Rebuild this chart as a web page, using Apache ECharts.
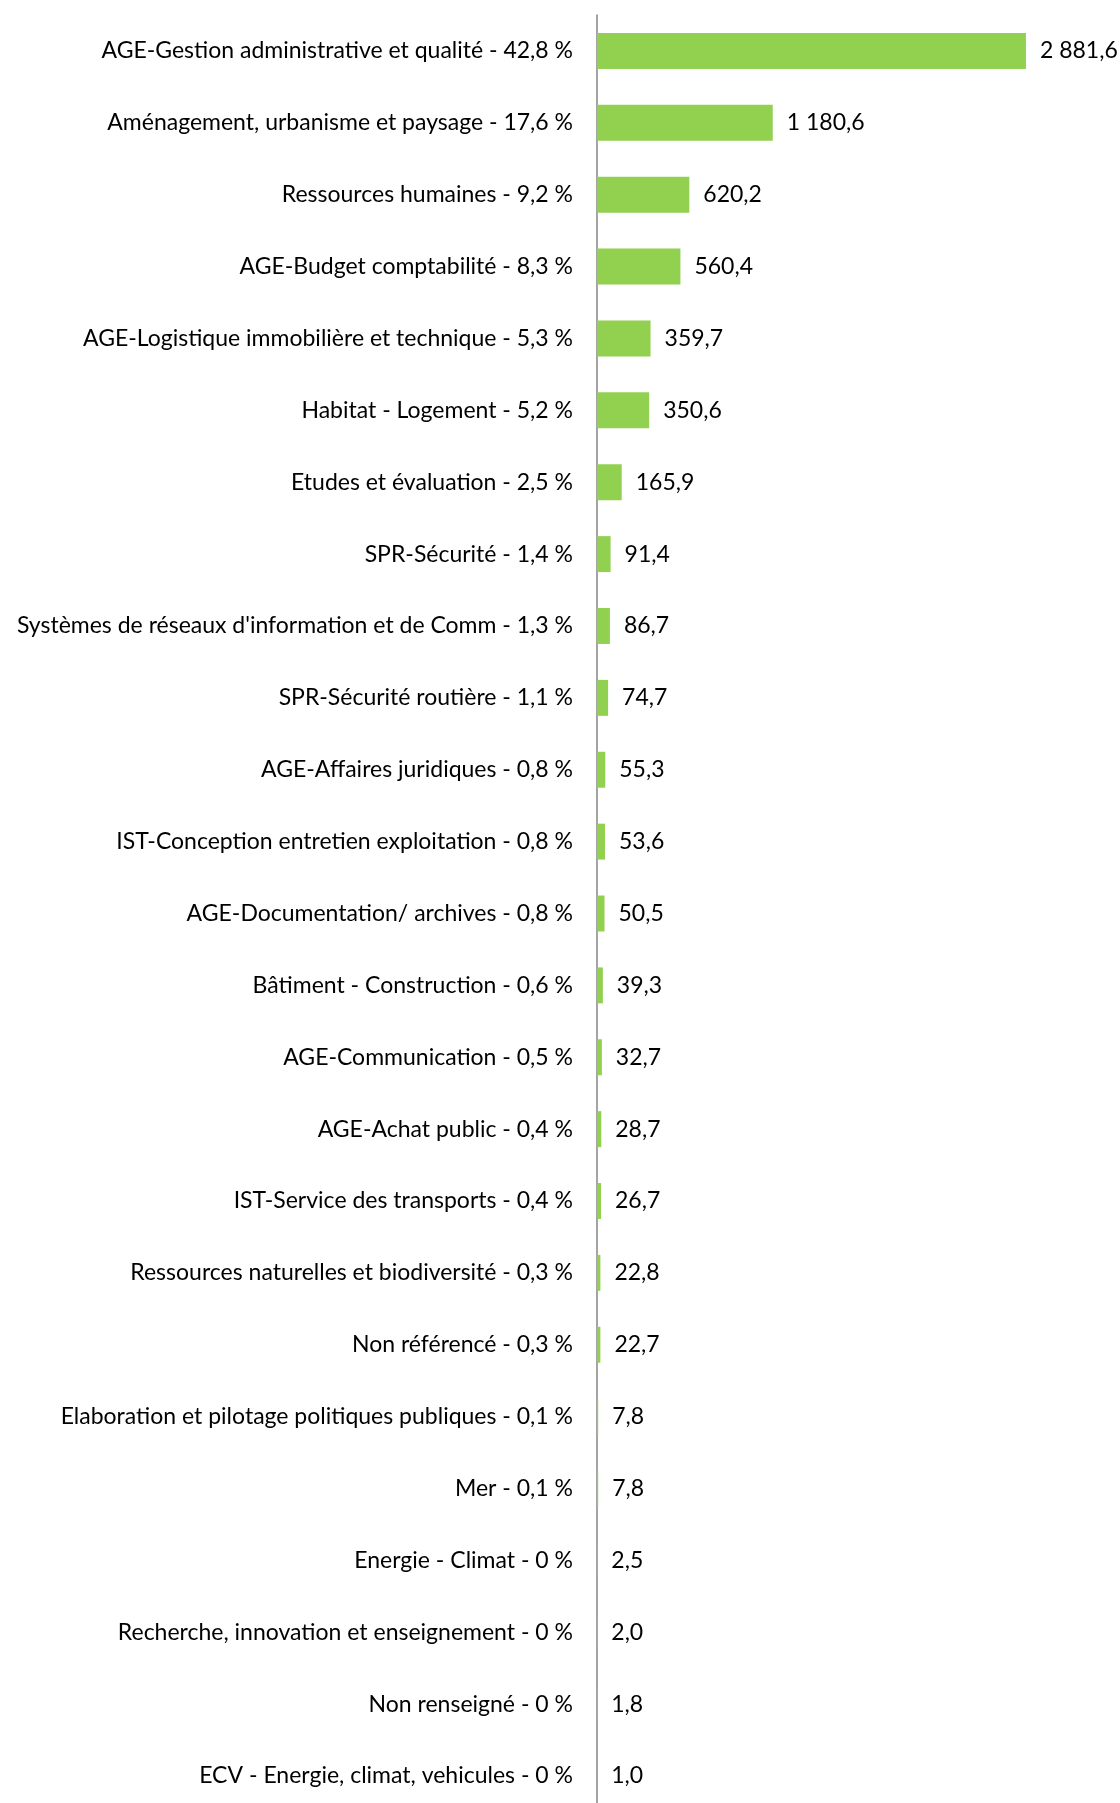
<!DOCTYPE html>
<html>
<head>
<meta charset="utf-8">
<script src="https://cdn.jsdelivr.net/npm/echarts@6/dist/echarts.min.js"></script>
<style>
  html, body { margin: 0; padding: 0; background: #fff; }
  #chart { width: 1120px; height: 1803px; }
</style>
</head>
<body>
<div id="chart"></div>
<script>
const categories = [
  'AGE-Gestion administrative et qualité',
  'Aménagement, urbanisme et paysage',
  'Ressources humaines',
  'AGE-Budget comptabilité',
  'AGE-Logistique immobilière et technique',
  'Habitat - Logement',
  'Etudes et évaluation',
  'SPR-Sécurité',
  "Systèmes de réseaux d'information et de Comm",
  'SPR-Sécurité routière',
  'AGE-Affaires juridiques',
  'IST-Conception entretien exploitation',
  'AGE-Documentation/ archives',
  'Bâtiment - Construction',
  'AGE-Communication',
  'AGE-Achat public',
  'IST-Service des transports',
  'Ressources naturelles et biodiversité',
  'Non référencé',
  'Elaboration et pilotage politiques publiques',
  'Mer',
  'Energie - Climat',
  'Recherche, innovation et enseignement',
  'Non renseigné',
  'ECV - Energie, climat, vehicules'
];
const percents = ['42,8', '17,6', '9,2', '8,3', '5,3', '5,2', '2,5', '1,4', '1,3', '1,1', '0,8', '0,8', '0,8', '0,6', '0,5', '0,4', '0,4', '0,3', '0,3', '0,1', '0,1', '0', '0', '0', '0'];
const values = [2881.6, 1180.6, 620.2, 560.4, 359.7, 350.6, 165.9, 91.4, 86.7, 74.7, 55.3, 53.6, 50.5, 39.3, 32.7, 28.7, 26.7, 22.8, 22.7, 7.8, 7.8, 2.5, 2.0, 1.8, 1.0];

const labels = categories.map((c, i) => c + ' - ' + percents[i] + ' %');

function fmt(v) {
  const parts = v.toFixed(1).split('.');
  return parts[0].replace(/\B(?=(\d{3})+(?!\d))/g, ' ') + ',' + parts[1];
}

const chart = echarts.init(document.getElementById('chart'));
chart.setOption({
  animation: false,
  textStyle: { fontFamily: 'Lato' },
  grid: { left: 597, right: 2, top: 15, height: 1797, containLabel: false, outerBoundsMode: 'none' },
  xAxis: {
    type: 'value',
    min: 0,
    max: 3500,
    show: false
  },
  yAxis: {
    type: 'category',
    inverse: true,
    data: labels,
    axisLine: { lineStyle: { color: '#868686', width: 1.5 } },
    axisTick: { length: 7, lineStyle: { color: '#868686' } },
    axisLabel: { color: '#000', fontSize: 23, fontFamily: 'Lato', margin: 24, interval: 0 }
  },
  series: [{
    type: 'bar',
    data: values,
    barWidth: '50%',
    itemStyle: { color: '#92D050' },
    label: {
      show: true,
      position: 'right',
      distance: 14,
      color: '#000',
      fontSize: 23,
      fontFamily: 'Lato',
      formatter: p => fmt(p.value)
    }
  }]
});
</script>
</body>
</html>
